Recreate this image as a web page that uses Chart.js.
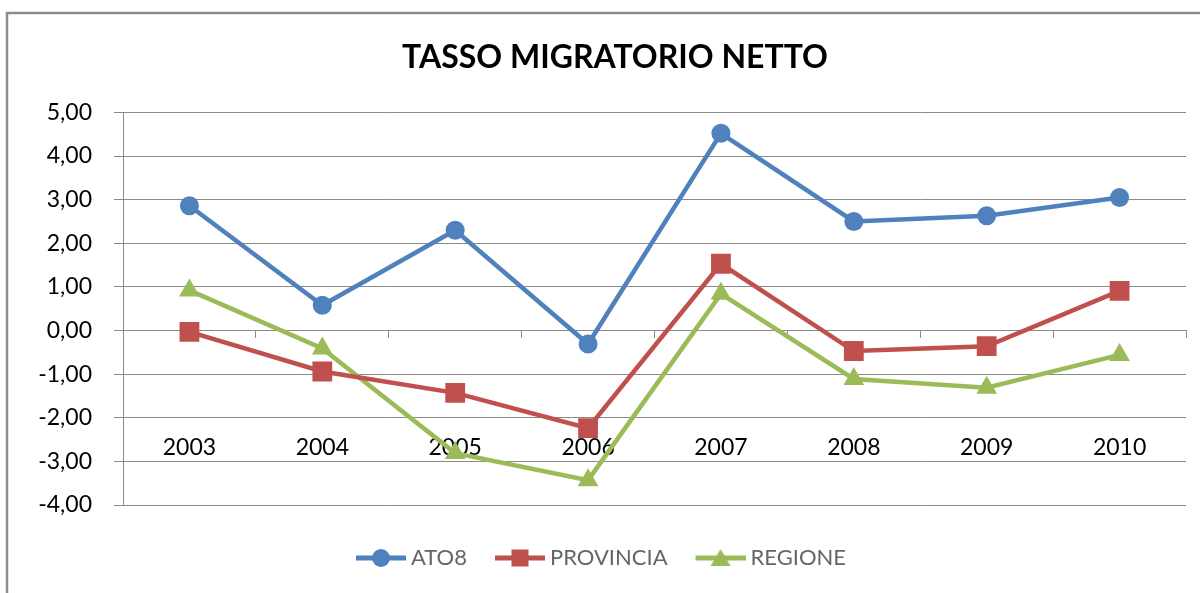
<!DOCTYPE html>
<html><head><meta charset="utf-8">
<script src="https://cdn.jsdelivr.net/npm/chart.js@4.4.0/dist/chart.umd.min.js"></script>
<style>html,body{margin:0;padding:0;background:#fff;}</style>
</head><body>
<canvas id="c" width="1200" height="593"></canvas>
<script>
// ---- data ----
const years = ['2003', '2004', '2005', '2006', '2007', '2008', '2009', '2010'];
const ato8 = [2.86, 0.58, 2.30, -0.31, 4.52, 2.50, 2.63, 3.05];
const provincia = [-0.03, -0.94, -1.43, -2.24, 1.53, -0.47, -0.36, 0.91];
const regione = [0.92, -0.41, -2.81, -3.43, 0.84, -1.11, -1.31, -0.56];
const seriesNames = ['ATO8', 'PROVINCIA', 'REGIONE'];
const chartTitle = 'TASSO MIGRATORIO NETTO';
const yMin = -4, yMax = 5, yStep = 1;

// ---- style ----
const FONT = 'Lato, "Open Sans", "DejaVu Sans", sans-serif';
const colors = ['#4F81BD', '#C0504D', '#9BBB59'];
const styles = ['circle', 'rect', 'triangle'];
const radii = [9.5, 14, 12];
const GRID = '#8a8a8a';
const LABEL_ROW = -2.36; // where the category labels sit (Excel label offset)

function legendIcon(color, style) {
  const cv = document.createElement('canvas');
  cv.width = 60; cv.height = 24;
  const g = cv.getContext('2d');
  g.strokeStyle = color; g.fillStyle = color; g.lineWidth = 5;
  g.beginPath(); g.moveTo(10, 12); g.lineTo(60, 12); g.stroke();
  g.beginPath();
  if (style === 'circle') { g.arc(35, 12, 9, 0, Math.PI * 2); }
  else if (style === 'rect') { g.rect(26.5, 3.5, 17, 17); }
  else { g.moveTo(35, 3); g.lineTo(45, 20); g.lineTo(25, 20); g.closePath(); }
  g.fill();
  return cv;
}
const icons = colors.map((c, i) => legendIcon(c, styles[i]));

const borderPlugin = {
  id: 'frame',
  beforeDraw(chart) {
    const ctx = chart.ctx;
    ctx.save();
    ctx.fillStyle = '#fff';
    ctx.fillRect(0, 0, chart.width, chart.height);
    ctx.strokeStyle = '#8c8c8c';
    ctx.lineWidth = 2.5;
    ctx.beginPath();
    ctx.moveTo(7, chart.height + 2);
    ctx.lineTo(7, 13);
    ctx.lineTo(chart.width + 2, 13);
    ctx.stroke();
    ctx.restore();
  },
  afterLayout(chart) {
    if (chart.titleBlock) { chart.titleBlock.left = 44; }
    if (chart.legend) { chart.legend.left += 12; }
  }
};

const seriesData = [ato8, provincia, regione];
new Chart(document.getElementById('c'), {
  type: 'line',
  data: {
    labels: years,
    datasets: seriesData.map((d, i) => ({
      label: seriesNames[i],
      data: d,
      xAxisID: 'x',
      borderColor: colors[i],
      backgroundColor: colors[i],
      borderWidth: 4.5,
      tension: 0,
      pointStyle: styles[i],
      pointRadius: radii[i],
      pointHoverRadius: radii[i],
      pointBorderWidth: 0,
      pointBackgroundColor: colors[i],
      fill: false
    }))
  },
  options: {
    responsive: false,
    animation: false,
    events: [],
    layout: { padding: { left: 0, right: 14, top: 0, bottom: 14 } },
    plugins: {
      tooltip: { enabled: false },
      title: {
        display: true,
        text: chartTitle,
        color: '#000',
        font: { family: FONT, size: 32, weight: 'bold', lineHeight: 1.2 },
        padding: { top: 38, bottom: 36 }
      },
      legend: {
        position: 'bottom',
        title: { display: true, text: '', padding: 0, font: { size: 18, lineHeight: 1 } },
        labels: {
          usePointStyle: true,
          pointStyleWidth: 48,
          padding: 24,
          color: '#000',
          font: { family: FONT, size: 22 },
          generateLabels: (chart) => chart.data.datasets.map((ds, i) => ({
            text: ds.label,
            pointStyle: icons[i],
            fillStyle: colors[i],
            strokeStyle: colors[i],
            lineWidth: 0,
            hidden: false,
            datasetIndex: i
          }))
        }
      }
    },
    scales: {
      x: {
        type: 'category',
        position: { y: 0 },
        offset: true,
        grid: { display: true, offset: true, drawOnChartArea: false, drawTicks: true, tickLength: 7, color: GRID },
        border: { display: true, color: GRID, width: 1 },
        ticks: { display: false, padding: 0 }
      },
      xLabels: {
        type: 'category',
        position: { y: LABEL_ROW },
        offset: true,
        grid: { display: false, drawTicks: false },
        border: { display: false },
        ticks: { color: '#000', padding: 0, font: { family: FONT, size: 23 }, maxRotation: 0 }
      },
      y: {
        min: yMin, max: yMax,
        afterFit(scale) { scale.width = 123; },
        grid: { color: GRID, tickLength: 9, drawTicks: true },
        border: { display: true, color: GRID, width: 1 },
        ticks: {
          stepSize: yStep,
          padding: 22,
          color: '#000',
          font: { family: FONT, size: 23 },
          callback: (v) => Number(v).toFixed(2).replace('.', ',')
        }
      }
    }
  },
  plugins: [borderPlugin]
});
</script>
</body></html>
